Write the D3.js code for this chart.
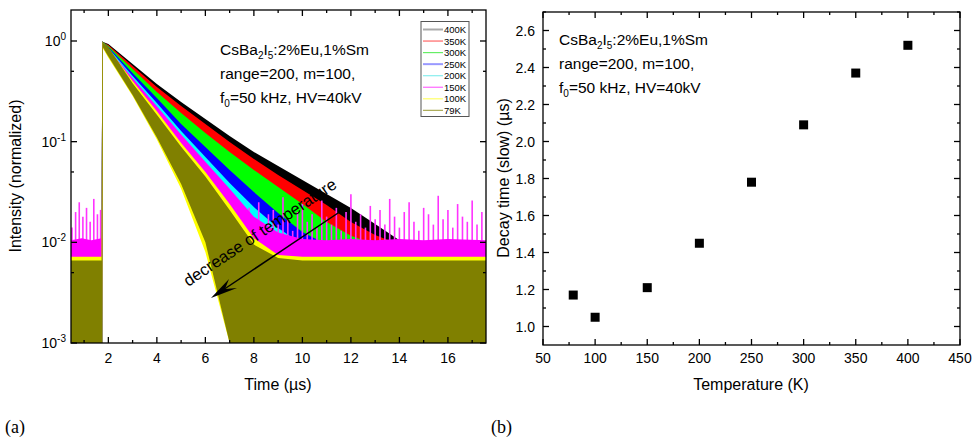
<!DOCTYPE html>
<html><head><meta charset="utf-8">
<script src="https://cdn.jsdelivr.net/npm/d3@7"></script>
<style>
html,body{margin:0;padding:0;background:#fff;}
svg text{font-family:"Liberation Sans",Arial,sans-serif;fill:#000;}
</style></head>
<body><svg id="c" width="975" height="438"></svg>
<script>
// ---------- DATA ----------
const times = [0.46, 0.9, 1.3, 1.72, 1.75, 1.78, 2, 3, 4, 5, 6, 7, 8, 9, 10, 11, 12, 13, 14, 15, 16, 17.57];
const seriesNames = ["400K","350K","300K","250K","200K","150K","100K","79K"];
const seriesColors = ["#000000","#ff0000","#00ff00","#0000ff","#00ffff","#ff00ff","#ffff00","#808000"];
const legendColors = ["#aaaaaa","#ff6666","#66ee66","#9999ff","#88eeee","#ff66ff","#ffff66","#aaaa55"];
// upper / lower envelope of the noisy decay curves (normalized intensity)
const top400 = [0.0085,0.0085,0.0085,0.0085,1.0,0.98,0.934,0.591,0.374,0.248,0.168,0.114,0.079,0.0573,0.0416,0.0302,0.0219,0.0152,0.0105,0.0085,0.0085,0.0085];
const bot400 = [0.001,0.001,0.001,0.001,0.001,0.90,0.80,0.48,0.30,0.19,0.12,0.075,0.045,0.028,0.016,0.008,0.004,0.002,0.001,0.001,0.001,0.001];
const top350 = [0.0085,0.0085,0.0085,0.0085,1.0,0.97,0.913,0.565,0.349,0.226,0.150,0.0992,0.0673,0.0467,0.0331,0.0235,0.0159,0.0118,0.0095,0.0085,0.0085,0.0085];
const bot350 = [0.001,0.001,0.001,0.001,0.001,0.89,0.78,0.46,0.28,0.17,0.10,0.06,0.036,0.02,0.011,0.005,0.002,0.001,0.001,0.001,0.001,0.001];
const top300 = [0.0085,0.0085,0.0085,0.0085,1.0,0.97,0.892,0.527,0.311,0.193,0.122,0.0789,0.0523,0.0355,0.0240,0.0159,0.0116,0.0095,0.0085,0.0085,0.0085,0.0085];
const bot300 = [0.001,0.001,0.001,0.001,0.001,0.88,0.76,0.42,0.24,0.14,0.08,0.045,0.025,0.013,0.006,0.0025,0.001,0.001,0.001,0.001,0.001,0.001];
const top250 = [0.0085,0.0085,0.0085,0.0085,1.0,0.96,0.872,0.481,0.272,0.150,0.0885,0.0523,0.0316,0.0196,0.0127,0.0095,0.0085,0.0085,0.0085,0.0085,0.0085,0.0085];
const bot250 = [0.001,0.001,0.001,0.001,0.001,0.87,0.74,0.38,0.20,0.11,0.06,0.03,0.015,0.007,0.003,0.001,0.001,0.001,0.001,0.001,0.001,0.001];
const top200 = [0.0085,0.0085,0.0085,0.0085,1.0,0.96,0.852,0.449,0.242,0.1276,0.0704,0.0388,0.0224,0.0139,0.0095,0.0085,0.0085,0.0085,0.0085,0.0085,0.0085,0.0085];
const bot200 = [0.001,0.001,0.001,0.001,0.001,0.86,0.72,0.35,0.18,0.09,0.045,0.02,0.009,0.003,0.001,0.001,0.001,0.001,0.001,0.001,0.001,0.001];
const top150 = [0.0105,0.011,0.0105,0.011,1.0,0.95,0.833,0.43,0.225,0.118,0.063,0.034,0.018,0.0125,0.0108,0.0105,0.0108,0.0105,0.0108,0.0105,0.0108,0.0105];
const bot150 = [0.001,0.001,0.001,0.001,0.001,0.85,0.70,0.32,0.15,0.07,0.03,0.011,0.003,0.001,0.001,0.001,0.001,0.001,0.001,0.001,0.001,0.001];
const top100 = [0.0072,0.0072,0.0072,0.0072,1.0,0.95,0.85,0.40,0.20,0.097,0.05,0.024,0.011,0.0075,0.0072,0.0072,0.0072,0.0072,0.0072,0.0072,0.0072,0.0072];
const bot100 = [0.001,0.001,0.001,0.001,0.001,0.84,0.68,0.285,0.105,0.034,0.008,0.001,0.001,0.001,0.001,0.001,0.001,0.001,0.001,0.001,0.001,0.001];
const top79  = [0.0066,0.0066,0.0066,0.0066,1.0,0.96,0.87,0.38,0.185,0.089,0.045,0.021,0.0095,0.007,0.0066,0.0066,0.0066,0.0066,0.0066,0.0066,0.0066,0.0066];
const bot79  = [0.001,0.001,0.001,0.001,0.001,0.86,0.70,0.29,0.11,0.038,0.010,0.001,0.001,0.001,0.001,0.001,0.001,0.001,0.001,0.001,0.001,0.001];
const tops = [top400,top350,top300,top250,top200,top150,top100,top79];
const bots = [bot400,bot350,bot300,bot250,bot200,bot150,bot100,bot79];
// isolated noise spikes of the 150K trace (time, peak intensity)
const spikeT = [0.5,0.65,0.8,0.95,1.1,1.25,1.4,1.55,1.68,
  7.4,7.6,7.8,8.0,8.2,8.4,8.6,8.8,9.0,9.2,9.4,9.6,9.8,10.0,10.2,10.4,10.6,10.8,11.0,11.2,11.4,11.6,11.8,12.0,12.2,12.4,12.6,12.8,13.0,13.2,13.4,13.6,13.8,14.0,14.2,14.4,14.6,14.8,15.0,15.2,15.4,15.6,15.8,16.0,16.2,16.4,16.6,16.8,17.0,17.2,17.4];
const spikeV = [0.014,0.02,0.025,0.018,0.022,0.016,0.027,0.019,0.021,
  0.018,0.014,0.022,0.016,0.025,0.013,0.019,0.021,0.015,0.028,0.017,0.013,0.02,0.024,0.016,0.019,0.014,0.026,0.018,0.015,0.022,0.013,0.02,0.03,0.016,0.019,0.014,0.023,0.017,0.021,0.015,0.027,0.018,0.014,0.02,0.025,0.016,0.013,0.022,0.019,0.015,0.029,0.017,0.021,0.014,0.024,0.018,0.016,0.026,0.015,0.02];

// panel (b)
const temperatures = [79, 100, 150, 200, 250, 300, 350, 400];
const decayTimes   = [1.17, 1.05, 1.21, 1.45, 1.78, 2.09, 2.37, 2.52];

const xTicksA = [2,4,6,8,10,12,14,16];
const xMinorA = [1,3,5,7,9,11,13,15,17];
const yTicksA = [1e-3,1e-2,1e-1,1];
const yTickExp = ["-3","-2","-1","0"];
const yMinorA = [5e-3,5e-2,5e-1];
const xTicksB = [50,100,150,200,250,300,350,400,450];
const xMinorB = [75,125,175,225,275,325,375,425];
const yTicksB = [1.0,1.2,1.4,1.6,1.8,2.0,2.2,2.4,2.6];
const yMinorB = [1.1,1.3,1.5,1.7,1.9,2.1,2.3,2.5,2.7];

// ---------- DRAW ----------
const svg = d3.select("#c");
const FONT = 14;

const xA = d3.scaleLinear().domain([0.46,17.57]).range([71,486]);
const yA = d3.scaleLog().domain([1e-3,2.032]).range([343,10]);
const defs = svg.append("defs");
defs.append("clipPath").attr("id","clipA").append("rect")
  .attr("x",71).attr("y",10).attr("width",415).attr("height",333);

const gA = svg.append("g").attr("clip-path","url(#clipA)");
const area = d3.area().x(d=>xA(d.t)).y0(d=>yA(d.lo)).y1(d=>yA(d.hi));
seriesNames.forEach((n,i)=>{
  const pts = times.map((t,k)=>({t, hi:tops[i][k], lo:bots[i][k]}));
  if(i===5){
    gA.selectAll(null).data(spikeT).join("line")
      .attr("x1",d=>xA(d)).attr("x2",d=>xA(d))
      .attr("y1",yA(0.008)).attr("y2",(d,k)=>yA(spikeV[k]))
      .attr("stroke","#ff33ff").attr("stroke-width",1.6);
  }
  gA.append("path").attr("d",area(pts)).attr("fill",seriesColors[i]).attr("stroke","none");
});

function frame(x0,x1,y0,y1){
  svg.append("rect").attr("x",x0).attr("y",y0).attr("width",x1-x0).attr("height",y1-y0)
    .attr("fill","none").attr("stroke","#000").attr("stroke-width",1.3);
}
function ticks(g, vals, pos, len, horizontal, a0, a1){
  vals.forEach(v=>{
    const p = pos(v);
    if(horizontal){
      g.append("line").attr("x1",p).attr("x2",p).attr("y1",a0).attr("y2",a0-len).attr("stroke","#000").attr("stroke-width",1.3);
      g.append("line").attr("x1",p).attr("x2",p).attr("y1",a1).attr("y2",a1+len).attr("stroke","#000").attr("stroke-width",1.3);
    } else {
      g.append("line").attr("y1",p).attr("y2",p).attr("x1",a0).attr("x2",a0+len).attr("stroke","#000").attr("stroke-width",1.3);
      g.append("line").attr("y1",p).attr("y2",p).attr("x1",a1).attr("x2",a1-len).attr("stroke","#000").attr("stroke-width",1.3);
    }
  });
}
const axA = svg.append("g");
frame(71,486,10,343);
ticks(axA, xTicksA, xA, 6, true, 343, 10);
ticks(axA, xMinorA, xA, 3, true, 343, 10);
ticks(axA, yTicksA, yA, 6, false, 71, 486);
ticks(axA, yMinorA, yA, 3, false, 71, 486);
xTicksA.forEach(v=>{
  svg.append("text").attr("x",xA(v)).attr("y",363).attr("text-anchor","middle").attr("font-size",FONT).text(v);
});
yTicksA.forEach((v,i)=>{
  const t = svg.append("text").attr("x",66).attr("y",yA(v)+5).attr("text-anchor","end").attr("font-size",FONT);
  t.append("tspan").text("10");
  t.append("tspan").attr("dy",-6).attr("font-size",10).text(yTickExp[i]);
});
svg.append("text").attr("x",278).attr("y",390).attr("text-anchor","middle").attr("font-size",16).text("Time (\u00b5s)");
svg.append("text").attr("transform","translate(21,176) rotate(-90)").attr("text-anchor","middle").attr("font-size",16).text("Intensity (normalized)");

function sampleText(x,y){
  const t1 = svg.append("text").attr("x",x).attr("y",y).attr("font-size",15.5);
  t1.append("tspan").text("CsBa");
  t1.append("tspan").attr("dy",4).attr("font-size",10).text("2");
  t1.append("tspan").attr("dy",-4).text("I");
  t1.append("tspan").attr("dy",4).attr("font-size",10).text("5");
  t1.append("tspan").attr("dy",-4).text(":2%Eu,1%Sm");
  svg.append("text").attr("x",x).attr("y",y+24).attr("font-size",15.5).text("range=200, m=100,");
  const t3 = svg.append("text").attr("x",x).attr("y",y+48).attr("font-size",15.5);
  t3.append("tspan").text("f");
  t3.append("tspan").attr("dy",4).attr("font-size",10).text("0");
  t3.append("tspan").attr("dy",-4).text("=50 kHz, HV=40kV");
}
sampleText(220,55);

// legend
svg.append("rect").attr("x",421).attr("y",21.5).attr("width",48).attr("height",95)
  .attr("fill","#fff").attr("stroke","#555").attr("stroke-width",1);
seriesNames.forEach((n,i)=>{
  const y = 29.5 + i*11.55;
  svg.append("line").attr("x1",423).attr("x2",443).attr("y1",y).attr("y2",y)
    .attr("stroke",legendColors[i]).attr("stroke-width",(i===0||i===3)?2:1.2);
  svg.append("text").attr("x",444).attr("y",y+3.5).attr("font-size",9.5).text(n);
});

// arrow
svg.append("line").attr("x1",347).attr("y1",207).attr("x2",220).attr("y2",292)
  .attr("stroke","#000").attr("stroke-width",1.5);
svg.append("path").attr("d","M211,298 L229,279 L225,289 L237,288 z").attr("fill","#000");
svg.append("text").attr("transform","translate(263,237) rotate(-33.7)").attr("text-anchor","middle")
  .attr("font-size",16.5).text("decrease of temperature");

// panel (b)
const xB = d3.scaleLinear().domain([50,450]).range([543,960]);
const yB = d3.scaleLinear().domain([0.9,2.7]).range([345,12]);
const axB = svg.append("g");
frame(543,960,12,345);
ticks(axB, xTicksB, xB, 6, true, 345, 12);
ticks(axB, xMinorB, xB, 3, true, 345, 12);
ticks(axB, yTicksB, yB, 6, false, 543, 960);
ticks(axB, yMinorB, yB, 3, false, 543, 960);
xTicksB.forEach(v=>{
  svg.append("text").attr("x",xB(v)).attr("y",363).attr("text-anchor","middle").attr("font-size",FONT).text(v);
});
yTicksB.forEach(v=>{
  svg.append("text").attr("x",535).attr("y",yB(v)+5).attr("text-anchor","end").attr("font-size",FONT).text(v.toFixed(1));
});
svg.append("text").attr("x",751).attr("y",390).attr("text-anchor","middle").attr("font-size",16).text("Temperature (K)");
svg.append("text").attr("transform","translate(509,178) rotate(-90)").attr("text-anchor","middle").attr("font-size",16).text("Decay time (slow) (\u00b5s)");
svg.append("g").selectAll("rect").data(temperatures).join("rect")
  .attr("x",(d)=>xB(d)-4.5).attr("y",(d,i)=>yB(decayTimes[i])-4.5).attr("width",9).attr("height",9).attr("fill","#000");
sampleText(559,45);

svg.append("text").attr("x",5).attr("y",433).style("font-family","'Liberation Serif','DejaVu Serif',serif").attr("font-size",18).text("(a)");
svg.append("text").attr("x",491).attr("y",433).style("font-family","'Liberation Serif','DejaVu Serif',serif").attr("font-size",18).text("(b)");
</script></body></html>
